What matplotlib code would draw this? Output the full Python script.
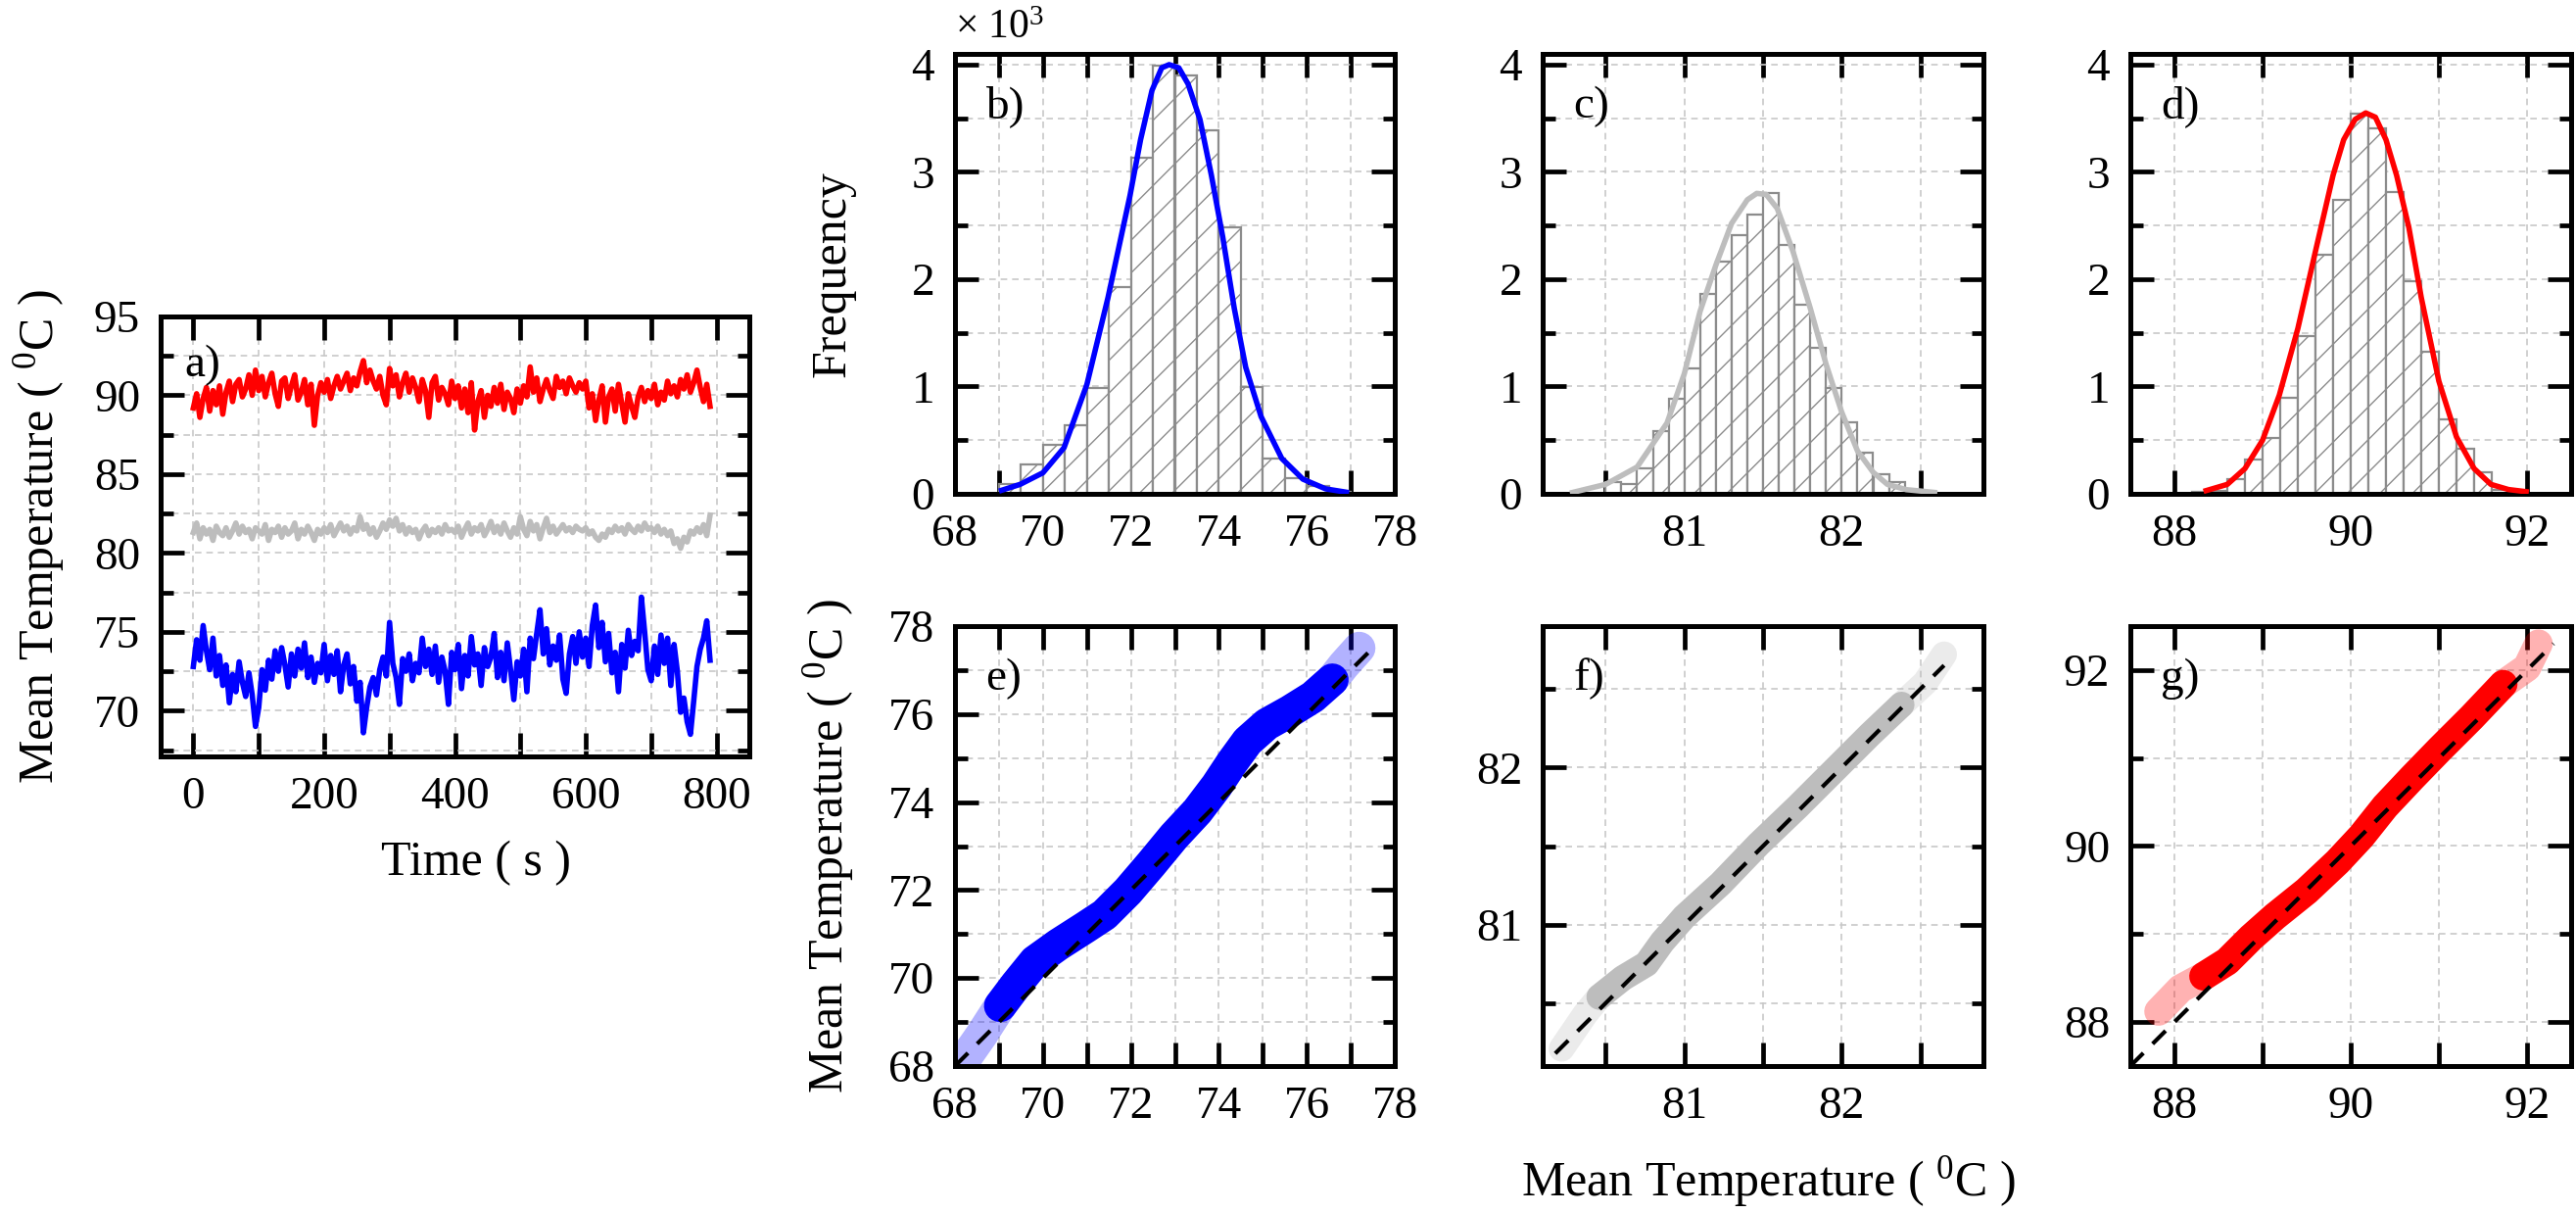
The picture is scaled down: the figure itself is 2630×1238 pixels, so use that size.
import numpy as np
import matplotlib
matplotlib.use("Agg")
import matplotlib.pyplot as plt
from matplotlib.ticker import MultipleLocator, FuncFormatter

plt.rcParams["font.family"] = ["Liberation Serif", "DejaVu Serif"]
plt.rcParams["mathtext.fontset"] = "custom"
plt.rcParams["mathtext.rm"] = "Liberation Serif"
plt.rcParams["mathtext.it"] = "Liberation Serif:italic"
plt.rcParams["hatch.linewidth"] = 1.0

BLUE, GRAY, RED = "#0000ff", "#bdbdbd", "#ff0000"
LABEL_T = "Mean Temperature ( $^{0}$C )"

# ---- a) time series, one sample every 5 s (read off the picture) ----
TIME = np.arange(0, 795, 5)

T_RED = [
    89.2, 90.1, 88.6, 89.8, 90.5, 89.0, 90.3, 89.4, 90.6, 88.8, 90.2, 90.9, 89.6, 90.7, 91.0, 89.9, 90.4, 91.3, 90.0, 91.6,
    90.3, 91.2, 89.9, 90.8, 91.4, 90.1, 89.3, 90.9, 91.1, 89.8, 90.6, 91.3, 89.7, 90.2, 91.0, 89.4, 90.7, 88.1, 90.0, 90.8,
    90.2, 91.0, 89.8, 90.6, 91.2, 90.4, 90.9, 91.4, 90.3, 91.1, 90.6, 91.5, 92.2, 90.8, 91.6, 90.9, 90.4, 91.2, 90.0, 89.4,
    91.7, 90.6, 91.3, 89.9, 90.8, 91.4, 90.2, 91.1, 90.5, 89.6, 91.0, 90.3, 88.6, 90.8, 91.2, 89.7, 90.5, 90.1, 89.4, 90.9,
    89.8, 90.6, 89.2, 90.4, 88.9, 90.8, 87.8, 89.6, 90.3, 88.6, 90.0, 89.3, 90.5, 89.5, 90.7, 89.1, 90.2, 89.8, 88.9, 90.4,
    89.5, 90.6, 89.9, 91.8, 90.2, 91.1, 89.6, 90.4, 91.0, 90.3, 89.8, 91.2, 90.5, 90.9, 90.1, 91.1, 90.6, 90.2, 90.8, 90.4,
    90.9, 89.2, 90.1, 88.4, 89.7, 90.6, 88.3, 89.9, 90.4, 89.0, 90.7, 89.5, 88.3, 90.1, 89.3, 88.6, 89.9, 90.5, 89.6, 90.3,
    89.8, 90.7, 89.4, 90.2, 89.7, 90.9, 90.1, 90.6, 89.9, 91.0, 90.4, 91.3, 90.2, 90.8, 91.6, 90.5, 89.6, 90.7, 89.3,
]
T_GRAY = [
    81.3, 81.9, 80.9, 81.6, 81.2, 81.5, 80.8, 81.7, 81.3, 81.1, 81.6, 81.0, 81.4, 81.9, 81.2, 81.7, 81.3, 81.5, 80.9, 81.6,
    81.4, 81.2, 81.8, 80.8, 81.5, 81.3, 81.7, 81.0, 81.6, 81.2, 81.4, 81.9, 80.9, 81.5, 81.2, 81.7, 81.3, 80.8, 81.5, 81.2,
    81.6, 81.3, 81.8, 81.1, 81.5, 81.9, 81.4, 81.7, 81.2, 81.6, 81.4, 82.3, 81.5, 81.8, 81.2, 81.6, 81.0, 81.4, 81.9, 81.5,
    82.1, 81.7, 82.2, 81.4, 81.8, 81.2, 81.6, 81.3, 81.5, 80.9, 81.4, 81.7, 81.1, 81.5, 81.3, 81.6, 81.2, 81.8, 81.4, 81.5,
    81.3, 81.7, 81.0, 81.5, 81.9, 81.2, 81.6, 81.4, 81.8, 81.1, 81.5, 82.0, 81.3, 81.7, 81.2, 81.9, 81.4, 81.0, 81.6, 81.2,
    82.3, 81.5, 81.1, 82.0, 81.4, 81.8, 80.9, 81.6, 82.2, 81.3, 81.7, 81.2, 81.5, 81.8, 81.4, 81.6, 81.3, 81.7, 81.5, 81.4,
    81.6, 81.2, 81.4, 81.0, 80.8, 81.2, 81.0, 81.5, 81.3, 81.7, 81.4, 81.6, 81.2, 81.8, 81.5, 81.3, 81.7, 81.4, 81.9, 81.5,
    81.6, 81.3, 81.7, 81.2, 81.5, 81.1, 81.4, 80.6, 80.9, 80.3, 81.0, 80.7, 81.4, 81.2, 81.6, 81.3, 81.8, 81.1, 82.4,
]
T_BLUE = [
    72.8, 74.5, 73.2, 75.4, 73.8, 72.6, 74.6, 72.2, 73.5, 71.6, 72.9, 70.5, 72.3, 71.2, 73.1, 71.8, 70.9, 72.4, 71.0, 69.0,
    70.2, 72.6, 71.3, 73.2, 72.0, 73.8, 72.5, 74.0, 72.9, 71.5, 73.6, 72.2, 73.9, 72.7, 74.3, 72.1, 73.4, 71.8, 73.0, 72.4,
    74.2, 71.9, 73.5, 72.3, 73.8, 71.2, 72.9, 73.6, 71.7, 72.8, 70.6, 71.8, 68.6, 70.2, 71.5, 72.1, 71.0, 72.6, 73.4, 72.2,
    75.6, 73.0, 72.1, 70.4, 73.3, 72.5, 73.6, 71.9, 73.0, 72.4, 74.6, 72.8, 73.9, 72.3, 74.1, 71.8, 73.4, 72.5, 70.4, 73.7,
    72.6, 74.2, 71.4, 73.5, 72.2, 74.7, 72.9, 73.6, 71.6, 74.0, 72.8, 73.4, 74.9, 72.1, 73.7, 71.9, 74.3, 72.6, 70.7, 73.1,
    72.2, 73.9, 71.2, 74.6, 73.3, 74.9, 76.4, 73.6, 75.2, 72.9, 74.1, 73.2, 74.8, 72.0, 71.1, 73.6, 74.7, 73.0, 75.0, 73.4,
    74.6, 72.8, 75.4, 76.7, 74.0, 75.6, 73.1, 74.9, 72.4, 73.7, 71.2, 74.2, 72.7, 75.1, 73.5, 74.4, 73.8, 77.2, 75.0, 72.6,
    71.9, 74.1, 72.3, 74.8, 73.0, 74.6, 71.6, 74.2, 72.5, 69.9, 70.8, 69.3, 68.5, 70.6, 72.8, 73.9, 74.6, 75.7, 73.2,
]

# ---- b-d) histograms: first bin edge, bin width, counts ----
B_START, B_WIDTH = 69.0, 0.5
B_COUNTS = [88, 277, 453, 642, 985, 1930, 3130, 3990, 3900, 3390, 2480, 994, 333, 147, 72, 20]
C_START, C_WIDTH = 80.5, 0.1
C_COUNTS = [110, 95, 235, 587, 887, 1170, 1860, 2160, 2410, 2600, 2800, 2320, 1760, 1360, 990,
            668, 381, 186, 114, 40, 10]
D_START, D_WIDTH = 88.2, 0.2
D_COUNTS = [20, 30, 137, 316, 518, 893, 1470, 2230, 2740, 3540, 3410, 2810, 1980, 1320, 690, 420, 200, 40]

# fitted curves, points
FIT_B_X = [69.06, 69.48, 70.0, 70.48, 71.0, 71.48, 71.98, 72.22, 72.48, 72.70, 72.87, 73.09,
           73.30, 73.57, 73.83, 74.09, 74.35, 74.61, 74.96, 75.43, 75.91, 76.43, 76.9]
FIT_B_Y = [33, 88, 196, 430, 1020, 1830, 2780, 3300, 3760, 3970, 4000, 3970,
           3820, 3490, 2970, 2390, 1730, 1180, 720, 330, 137, 46, 15]
FIT_C_X = [80.29, 80.50, 80.70, 80.89, 81.0, 81.10, 81.20, 81.30, 81.40, 81.46, 81.52, 81.59,
           81.69, 81.80, 81.90, 82.0, 82.10, 82.20, 82.29, 82.41, 82.59]
FIT_C_Y = [13, 88, 250, 660, 1120, 1700, 2130, 2520, 2740, 2800, 2790, 2660,
           2260, 1730, 1210, 760, 400, 200, 88, 39, 13]
FIT_D_X = [88.36, 88.60, 88.80, 89.0, 89.19, 89.40, 89.60, 89.80, 89.92, 90.05, 90.17, 90.28,
           90.40, 90.52, 90.66, 90.80, 91.0, 91.20, 91.40, 91.59, 91.79, 91.99]
FIT_D_Y = [30, 88, 235, 500, 920, 1540, 2260, 2970, 3300, 3490, 3550, 3510,
           3300, 2970, 2480, 1830, 1050, 530, 235, 88, 40, 20]

# ---- e-g) Q-Q plots: centre of the band of points, and the reference line ----
QQ_E_X = [68.25, 68.6, 69.03, 69.39, 69.82, 70.35, 70.96, 71.40, 71.93, 72.46, 72.98,
          73.51, 73.95, 74.30, 74.65, 75.09, 75.61, 76.14, 76.58, 76.84, 77.19]
QQ_E_Y = [68.2, 68.7, 69.37, 69.85, 70.38, 70.76, 71.15, 71.44, 71.97, 72.59, 73.22,
          73.79, 74.37, 74.90, 75.38, 75.77, 76.06, 76.39, 76.78, 77.11, 77.5]
QQ_F_X = [80.22, 80.37, 80.46, 80.61, 80.76, 80.86, 81.0, 81.23, 81.47, 81.72, 81.96,
          82.18, 82.38, 82.53, 82.65]
QQ_F_Y = [80.21, 80.43, 80.54, 80.66, 80.75, 80.89, 81.05, 81.26, 81.51, 81.75, 81.99,
          82.21, 82.40, 82.54, 82.72]
QQ_G_X = [87.82, 88.07, 88.33, 88.60, 88.87, 89.14, 89.50, 89.85, 90.12, 90.39, 90.70,
          91.01, 91.37, 91.73, 92.0, 92.13]
QQ_G_Y = [88.12, 88.38, 88.52, 88.69, 88.96, 89.20, 89.49, 89.82, 90.11, 90.45, 90.78,
          91.10, 91.46, 91.84, 92.03, 92.30]
REF_E = [68.0, 77.6]
REF_F = [80.18, 82.65]
REF_G = [87.5, 92.3]


def _style(ax, xstep, xlab, ymaj, ymin, yfmt=None):
    ax.xaxis.set_major_locator(MultipleLocator(xstep))
    ax.xaxis.set_major_formatter(FuncFormatter(
        lambda v, p: f"{round(v, 3):g}" if abs(v / xlab - round(v / xlab)) < 1e-6 else ""))
    ax.yaxis.set_major_locator(MultipleLocator(ymaj))
    ax.yaxis.set_minor_locator(MultipleLocator(ymin))
    if yfmt is not None:
        ax.yaxis.set_major_formatter(yfmt)
    else:
        ax.yaxis.set_major_formatter(FuncFormatter(lambda v, p: f"{round(v, 3):g}"))
    ax.tick_params(which="both", direction="in", top=True, right=True, width=3.4,
                   labelsize=34, pad=15)
    ax.tick_params(which="major", length=17)
    ax.tick_params(which="minor", length=9)
    ax.grid(True, which="both", color="#c8c8c8", linestyle=(0, (4, 3)), linewidth=1.2)
    ax.set_axisbelow(True)
    for s in ax.spines.values():
        s.set_linewidth(3.6)


def _panel_label(ax, txt, x=0.07, y=0.88):
    ax.text(x, y, txt, transform=ax.transAxes, fontsize=34, ha="left", va="center")


def _hist(ax, start, width, counts, fx, fy, color):
    edges = start + width * np.arange(len(counts))
    ax.bar(edges, counts, width=width, align="edge", color="white",
           edgecolor="#8c8c8c", hatch="/", linewidth=1.6, zorder=2)
    ax.plot(fx, fy, color=color, lw=4, zorder=3)
    ax.set_ylim(0, 4100)


def _qq(ax, qx, qy, ref, color, lw):
    # dense middle of the band, solid
    ax.plot(qx[2:-2], qy[2:-2], color=color, lw=lw, solid_capstyle="round",
            solid_joinstyle="round", zorder=2)
    # sparse ends, faded
    for sl in (slice(0, 3), slice(-3, None)):
        ax.plot(qx[sl], qy[sl], color=color, lw=lw, alpha=0.3, solid_capstyle="round",
                solid_joinstyle="round", zorder=2)
    ax.plot(ref, ref, color="black", lw=3, dashes=(4.5, 3.2), zorder=4)


fig = plt.figure(figsize=(26.3, 12.38), dpi=100)

W, H = 2630, 1238
TOP_Y, BOT_Y, PH = 504, 1088, 449
COLS = [975, 1575, 2175]
PW = 450


def _rect(left, bottom_px, w, h):
    return [left / W, (H - bottom_px) / H, w / W, h / H]


hist_fmt = FuncFormatter(lambda v, p: f"{v / 1000:g}")

# a)
ax_a = fig.add_axes(_rect(164, 772, 601, 449))
ax_a.plot(TIME, T_RED, color=RED, lw=4)
ax_a.plot(TIME, T_GRAY, color=GRAY, lw=4)
ax_a.plot(TIME, T_BLUE, color=BLUE, lw=4)
ax_a.set_xlim(-50, 850)
ax_a.set_ylim(67.1, 95)
_style(ax_a, 100, 200, 5, 2.5)
ax_a.set_xlabel("Time ( s )", fontsize=36)
ax_a.xaxis.set_label_coords(0.535, -0.19)
ax_a.set_ylabel(LABEL_T, fontsize=36)
ax_a.yaxis.set_label_coords(-0.16, 0.5)
_panel_label(ax_a, "a)", 0.04, 0.89)

# b) c) d)
ax_b = fig.add_axes(_rect(COLS[0], TOP_Y, PW - 1, PH))
_hist(ax_b, B_START, B_WIDTH, B_COUNTS, FIT_B_X, FIT_B_Y, BLUE)
ax_b.set_xlim(68, 78)
_style(ax_b, 1, 2, 1000, 500, hist_fmt)
ax_b.set_ylabel("Frequency", fontsize=36)
ax_b.yaxis.set_label_coords(-0.225, 0.5)
ax_b.text(0.0, 1.015, "× 10$^{3}$", transform=ax_b.transAxes, fontsize=30,
          ha="left", va="bottom")
_panel_label(ax_b, "b)")

ax_c = fig.add_axes(_rect(COLS[1], TOP_Y, PW, PH))
_hist(ax_c, C_START, C_WIDTH, C_COUNTS, FIT_C_X, FIT_C_Y, GRAY)
ax_c.set_xlim(80.1, 82.9)
_style(ax_c, 0.5, 1, 1000, 500, hist_fmt)
_panel_label(ax_c, "c)")

ax_d = fig.add_axes(_rect(COLS[2], TOP_Y, PW, PH))
_hist(ax_d, D_START, D_WIDTH, D_COUNTS, FIT_D_X, FIT_D_Y, RED)
ax_d.set_xlim(87.5, 92.5)
_style(ax_d, 1, 2, 1000, 500, hist_fmt)
_panel_label(ax_d, "d)")

# e) f) g)
ax_e = fig.add_axes(_rect(COLS[0], BOT_Y, PW - 1, PH))
_qq(ax_e, QQ_E_X, QQ_E_Y, REF_E, BLUE, 24)
ax_e.set_xlim(68, 78)
ax_e.set_ylim(68, 78)
_style(ax_e, 1, 2, 2, 1)
ax_e.set_ylabel(LABEL_T, fontsize=36)
ax_e.yaxis.set_label_coords(-0.225, 0.5)
_panel_label(ax_e, "e)")

ax_f = fig.add_axes(_rect(COLS[1], BOT_Y, PW, PH))
_qq(ax_f, QQ_F_X, QQ_F_Y, REF_F, GRAY, 19)
ax_f.set_xlim(80.1, 82.9)
ax_f.set_ylim(80.1, 82.9)
_style(ax_f, 0.5, 1, 1, 0.5)
ax_f.set_xlabel(LABEL_T, fontsize=36)
ax_f.xaxis.set_label_coords(0.513, -0.2)
_panel_label(ax_f, "f)")

ax_g = fig.add_axes(_rect(COLS[2], BOT_Y, PW, PH))
_qq(ax_g, QQ_G_X, QQ_G_Y, REF_G, RED, 21)
ax_g.set_xlim(87.5, 92.5)
ax_g.set_ylim(87.5, 92.5)
_style(ax_g, 1, 2, 2, 1)
_panel_label(ax_g, "g)")

fig.savefig("out.png", dpi=100)
